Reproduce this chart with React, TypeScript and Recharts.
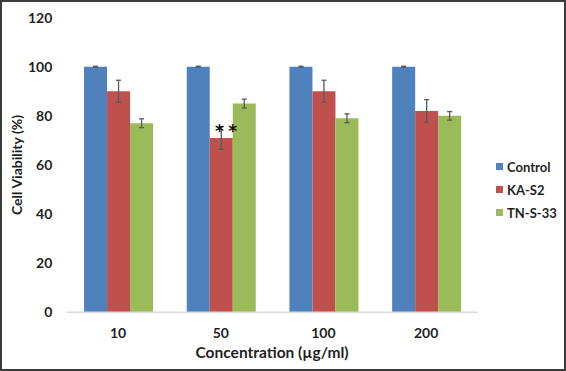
import React from 'react';
import { BarChart, Bar, XAxis, YAxis, ErrorBar, Legend, Label, LabelList } from 'recharts';

// concentrations on the x axis (µg/ml)
const concentrations = ['10', '50', '100', '200'];

// mean cell viability (%) and error (±) per series
const controlValues = [100, 100, 100, 100];
const controlErrors = [0.2, 0.2, 0.2, 0.2];
const kaValues = [90, 71, 90, 82];
const kaErrors = [4.5, 4.6, 4.5, 4.6];
const tnValues = [77, 85, 79, 80];
const tnErrors = [1.8, 1.8, 1.8, 1.75];

// significance marks drawn above KA-S2
const kaMarks = ['', '**', '', ''];

const yTicks = [0, 20, 40, 60, 80, 100, 120];

const seriesColors = { control: '#4f81bd', ka: '#c0504d', tn: '#9bbb59' };

const FONT = 'Lato, "Liberation Sans", sans-serif';
const TEXT = '#1f1f1f';
const LEGEND_W = 70;

const data = concentrations.map((c, i) => ({
  conc: c,
  control: controlValues[i],
  controlErr: controlErrors[i],
  ka: kaValues[i],
  kaErr: kaErrors[i],
  kaMark: kaMarks[i],
  tn: tnValues[i],
  tnErr: tnErrors[i],
}));

const renderStars = (props: any) => {
  const { x, y, width, value } = props;
  if (!value) return null;
  const bx = Number(x);
  const w = Number(width);
  const by = Number(y);
  const starFont = '"DejaVu Sans", sans-serif';
  return (
    <g>
      <text x={bx + w * 0.42} y={by - 1} textAnchor="middle" fontSize={17} fontWeight={700} fill="#111" fontFamily={starFont}>*</text>
      <text x={bx + w} y={by - 1} textAnchor="middle" fontSize={17} fontWeight={700} fill="#111" fontFamily={starFont}>*</text>
    </g>
  );
};

const renderLegend = (props: any) => {
  const { payload } = props;
  return (
    <div style={{ fontFamily: FONT, fontWeight: 700, fontSize: 13, color: TEXT }}>
      {(payload || []).map((p: any) => (
        <div key={p.value} style={{ height: 23, display: 'flex', alignItems: 'center' }}>
          <span style={{ width: 7, height: 7, background: p.color, display: 'inline-block', marginRight: 4 }} />
          <span>{p.value}</span>
        </div>
      ))}
    </div>
  );
};

export default function App() {
  return (
    <div style={{ position: 'absolute', left: 0, top: 0, width: 566, height: 371, background: '#fff' }}>
      <BarChart
        width={566}
        height={371}
        data={data}
        margin={{ top: 17.6, right: 88.5 - LEGEND_W, bottom: 0, left: 0 }}
        barCategoryGap="16.9%"
        barGap={0}
      >
        <XAxis
          dataKey="conc"
          height={58.7}
          axisLine={{ stroke: '#d9d9d9', strokeWidth: 1.5 }}
          tickLine={false}
          tickSize={0}
          tickMargin={16}
          tick={{ fill: TEXT, fontSize: 14, fontWeight: 700, fontFamily: FONT }}
        >
          <Label
            value="Concentration (µg/ml)"
            position="insideBottom"
            offset={12.7}
            style={{ fill: TEXT, fontSize: 15.5, fontWeight: 700, fontFamily: FONT }}
          />
        </XAxis>
        <YAxis
          width={66.7}
          domain={[0, 120]}
          ticks={yTicks}
          axisLine={false}
          tickLine={false}
          tickSize={0}
          tickMargin={14.4}
          tick={{ fill: TEXT, fontSize: 14, fontWeight: 700, fontFamily: FONT }}
        >
          <Label
            value="Cell Viability (%)"
            angle={-90}
            position="insideLeft"
            offset={17}
            style={{ fill: TEXT, fontSize: 14, fontWeight: 700, fontFamily: FONT, textAnchor: 'middle' }}
          />
        </YAxis>
        <Legend
          layout="vertical"
          align="right"
          verticalAlign="middle"
          content={renderLegend}
          wrapperStyle={{ left: 496, top: 155, right: 'auto', width: LEGEND_W }}
        />
        <Bar dataKey="control" name="Control" fill={seriesColors.control} isAnimationActive={false}>
          <ErrorBar dataKey="controlErr" width={2.5} stroke="#5a5a5a" strokeWidth={1.3} />
        </Bar>
        <Bar dataKey="ka" name="KA-S2" fill={seriesColors.ka} isAnimationActive={false}>
          <ErrorBar dataKey="kaErr" width={2.5} stroke="#5a5a5a" strokeWidth={1.3} />
          <LabelList dataKey="kaMark" content={renderStars} />
        </Bar>
        <Bar dataKey="tn" name="TN-S-33" fill={seriesColors.tn} isAnimationActive={false}>
          <ErrorBar dataKey="tnErr" width={2.5} stroke="#5a5a5a" strokeWidth={1.3} />
        </Bar>
      </BarChart>
      <div
        style={{
          position: 'absolute',
          left: 0,
          top: 0,
          width: 566,
          height: 371,
          boxSizing: 'border-box',
          border: '2px solid #3c3c3c',
          pointerEvents: 'none',
        }}
      />
    </div>
  );
}
